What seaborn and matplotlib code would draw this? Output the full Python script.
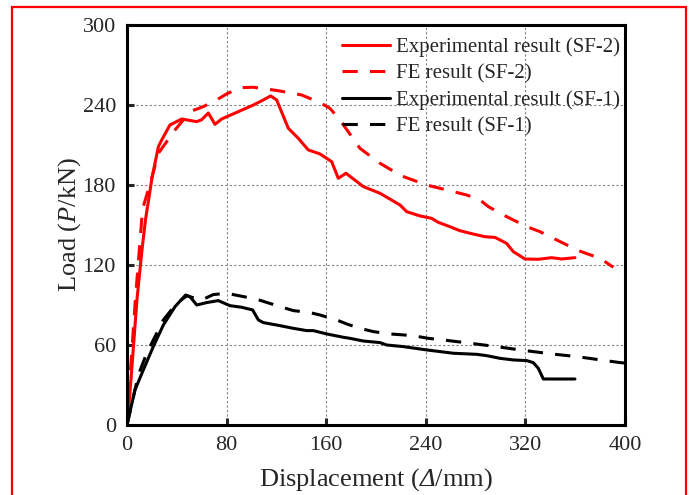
"""
Load-displacement curves for specimens SF-1 and SF-2: test vs FE.
"""

import matplotlib
matplotlib.use("Agg")
import matplotlib.pyplot as plt
from matplotlib.patches import Rectangle
import seaborn as sns
import pandas as pd

# experimental curve, SF-2
exp2_x = [0, 2, 4, 8, 12, 15, 17.4, 20, 25.2, 28, 34.5, 43.9, 56, 60, 65.3, 70.7, 76,
          101.5, 109.5, 115.4, 120.2, 129.6, 137.6, 145.6, 155, 164.4, 169.7, 175.9,
          189.8, 203.2, 219.3, 224.6, 235.3, 244.7, 250, 259.4, 267.5, 278.2, 287.6,
          295.6, 304.9, 310.3, 319.7, 330.4, 341.1, 349.1, 359.8]
exp2_y = [0, 20, 44, 94, 131, 155, 169, 185, 208.7, 214, 225, 229.5, 227.5, 229, 234,
          225.5, 229.5, 240, 243.8, 246.8, 243.8, 222.5, 215, 206.3, 203.3, 197.5, 185,
          188.8, 178.8, 173.8, 165, 160, 156.8, 155, 152, 148.7, 145.7, 143.2, 141.2,
          140.7, 136.2, 130, 124.5, 124.3, 125.5, 124.5, 125.5]

# FE curve, SF-2
fe2_x = [0, 1.9, 6.7, 12, 13.1, 19.8, 25.2, 38.6, 50.6, 61.3, 72, 80, 90.8, 101.5,
         112.2, 122.9, 140.3, 155, 163, 171, 187.1, 203.2, 220, 240.7, 251.4, 272.9,
         283.5, 290.2, 302.3, 321, 331.7, 345.1, 362.5, 380, 390.6]
fe2_y = [0, 28.7, 93.8, 156, 163.8, 185, 203.8, 221.3, 235, 238.8, 243.8, 248.3, 253,
         253.3, 252, 250.5, 247.5, 241.8, 237.5, 228.8, 207.5, 196.3, 187, 180, 177.5,
         172.5, 168.8, 163.8, 157.5, 148.8, 145, 138.8, 130.8, 125, 118.3]

# experimental curve, SF-1
exp1_x = [0, 6.4, 13.1, 21.1, 29.2, 38.6, 47.1, 50.6, 56, 64, 73.3, 82.7, 92.1, 100.9,
          105.5, 109.5, 122.9, 133.6, 144.3, 149.6, 160.4, 173.7, 179.1, 189.8, 203.2,
          208.6, 221.9, 240.7, 262.2, 280.9, 289, 299.6, 310.3, 321, 326.3, 330.4,
          334.4, 359.8]
exp1_y = [0, 26.3, 41.3, 58.8, 75, 88.8, 97.5, 96.3, 90, 91.8, 93.3, 89.5, 88.3, 86.3,
          78.8, 76.8, 74.5, 72.5, 70.8, 70.8, 68.3, 65.8, 65, 63, 61.8, 60, 58.8, 56.3,
          53.8, 53, 52, 50, 48.8, 48.3, 46.8, 42.5, 34.5, 34.5]

# FE curve, SF-1
fe1_x = [0, 9.1, 15.8, 22.5, 29.2, 39.9, 48, 60, 69.3, 80, 90.8, 104.2, 122.9, 133.6,
         147, 155, 168.4, 176.4, 187.1, 198.1, 211.2, 230, 242, 254.1, 275.5, 296.9,
         315.7, 341.1, 361.2, 396, 400]
fe1_y = [0, 37.5, 53.8, 66.3, 78.8, 91.3, 96.8, 93.8, 97.8, 98.8, 96.8, 94.3, 88.8,
         85.8, 84.3, 82.5, 78.8, 75.8, 72.5, 70, 68.3, 67, 65, 63.8, 61.3, 58.8, 56.3,
         53.3, 51.3, 46.8, 46.5]

x_ticks = [0, 80, 160, 240, 320, 400]
y_ticks = [0, 60, 120, 180, 240, 300]

sns.set_theme(style="ticks")
plt.rcParams["font.family"] = ["Liberation Serif", "DejaVu Serif"]
plt.rcParams["mathtext.fontset"] = "custom"
plt.rcParams["mathtext.rm"] = "Liberation Serif"
plt.rcParams["mathtext.it"] = "Liberation Serif:italic"
# \mathsf is used for the italic capital delta (mathtext keeps Greek capitals upright in \mathit)
plt.rcParams["mathtext.sf"] = "Liberation Serif:italic"

fig = plt.figure(figsize=(6.9, 4.95), dpi=100)
ax = fig.add_axes([127 / 690, 70 / 495, 498 / 690, 400 / 495])

series = [
    (exp2_x, exp2_y, "red", "-", "Experimental result (SF-2)"),
    (fe2_x, fe2_y, "red", "--", "FE result (SF-2)"),
    (exp1_x, exp1_y, "black", "-", "Experimental result (SF-1)"),
    (fe1_x, fe1_y, "black", "--", "FE result (SF-1)"),
]
for xs, ys, col, ls, lab in series:
    df = pd.DataFrame({"x": xs, "y": ys})
    line_ax = sns.lineplot(data=df, x="x", y="y", ax=ax, color=col, linewidth=2.2,
                           sort=False, estimator=None, label=lab)
    line = line_ax.get_lines()[-1]
    line.set_linestyle(ls)
    if ls == "--":
        line.set_dashes((5, 4))

ax.set_xlim(0, 400)
ax.set_ylim(0, 300)
ax.set_xticks(x_ticks)
ax.set_yticks(y_ticks)
ax.grid(True, color="gray", linestyle=(0, (2, 2)), linewidth=0.8)
for sp in ax.spines.values():
    sp.set_linewidth(2.2)
    sp.set_color("black")
ax.tick_params(direction="in", length=5, width=2.2, labelsize=16, pad=8)

ax.set_xlabel(r"Displacement ($\mathsf{Δ}$/mm)", fontsize=19, labelpad=8)
ax.set_ylabel(r"Load ($\mathit{P}$/kN)", fontsize=19, labelpad=0)

leg = ax.legend(loc="upper right", bbox_to_anchor=(1 + 8 / 498, 1), frameon=False,
                fontsize=15, handlelength=2.3, handletextpad=0.3, labelspacing=0.33,
                borderaxespad=0.3, borderpad=0.3)
for h in leg.get_lines():
    h.set_linewidth(2.2)

# red frame around the figure
fig.patches.append(Rectangle((12 / 690, -0.05), 674 / 690, 488 / 495 + 0.05,
                             transform=fig.transFigure, fill=False,
                             edgecolor="red", linewidth=1.6, clip_on=False))

fig.savefig("out.png", dpi=100)
